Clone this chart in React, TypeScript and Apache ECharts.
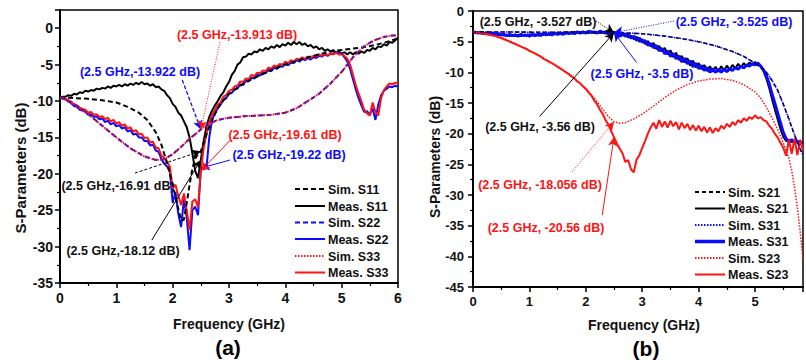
import React, { useEffect, useRef } from "react";
import * as echarts from "echarts";

const FONT = '"Liberation Sans", Arial, Helvetica, sans-serif';
const BLACK = "#000000";
const BLUE = "#0b0bff";
const RED = "#ff1414";

// Frequency grids (GHz) of the measured traces, 0.05 GHz step
const freqA = Array.from({ length: 121 }, (_, i) => Math.round(i * 5) / 100);
const freqB = Array.from({ length: 118 }, (_, i) => Math.round(i * 5) / 100);

// ---- Panel (a): reflection coefficients ----
const measS11 = [
  -9.5, -9.4, -9.4, -9.2, -9.3, -9.0, -9.1, -8.8, -8.9, -8.6,
  -8.7, -8.5, -8.6, -8.3, -8.4, -8.2, -8.3, -8.0, -8.2, -7.9,
  -8.0, -7.8, -8.0, -7.7, -7.9, -7.6, -7.8, -7.5, -7.7, -7.4,
  -7.7, -7.6, -7.9, -7.7, -8.1, -8.0, -8.4, -8.6, -9.2, -9.6,
  -10.4, -10.8, -11.6, -12.0, -12.8, -13.6, -15.0, -17.2, -19.6, -20.6,
  -18.12, -15.5, -13.5, -12.2, -11.3, -10.6, -10.0, -9.3, -8.8, -8.0,
  -7.4, -6.4, -5.9, -5.0, -4.7, -4.0, -3.9, -3.5, -3.6, -3.2,
  -3.3, -2.9, -3.1, -2.7, -2.9, -2.5, -2.7, -2.3, -2.6, -2.2,
  -2.4, -2.0, -2.3, -1.9, -2.2, -1.9, -2.3, -2.1, -2.5, -2.3,
  -2.7, -2.5, -2.9, -2.7, -3.1, -2.9, -3.2, -3.0, -3.4, -3.2,
  -3.5, -3.3, -3.6, -3.3, -3.6, -3.3, -3.5, -3.2, -3.4, -3.0,
  -3.1, -2.7, -2.9, -2.5, -2.6, -2.2, -2.4, -1.9, -2.0, -1.7,
  -1.3,
];
const measS22 = [
  -9.5, -9.7, -9.8, -10.1, -10.3, -10.7, -10.8, -11.2, -11.3, -11.5,
  -11.9, -11.8, -12.2, -12.1, -12.5, -12.4, -12.9, -12.7, -13.2, -13.0,
  -13.5, -13.3, -13.8, -13.6, -14.2, -14.0, -14.6, -14.5, -15.0, -15.0,
  -15.5, -15.5, -16.1, -16.0, -16.8, -17.0, -18.0, -18.6, -19.0, -19.6,
  -24.0, -22.5, -25.5, -27.3, -23.5, -26.0, -30.5, -25.0, -24.5, -25.7,
  -19.22, -19.3, -19.2, -15.0, -12.6, -11.7, -11.0, -10.5, -9.9, -9.6,
  -9.0, -8.9, -8.4, -8.3, -7.7, -7.8, -7.2, -7.3, -6.8, -6.9,
  -6.4, -6.5, -6.1, -6.2, -5.7, -5.9, -5.4, -5.6, -5.2, -5.3,
  -4.9, -5.1, -4.7, -4.8, -4.4, -4.6, -4.2, -4.4, -4.1, -4.3,
  -4.0, -4.1, -3.8, -3.9, -3.6, -3.8, -3.5, -3.5, -3.3, -3.4,
  -3.5, -4.0, -4.6, -5.6, -7.0, -8.4, -9.6, -10.6, -11.5, -11.4,
  -11.9, -11.0, -12.6, -10.5, -9.2, -8.6, -8.3, -8.0, -8.1, -7.9,
  -8.0,
];
const measS33 = [
  -9.5, -9.6, -9.7, -10.0, -10.1, -10.5, -10.6, -10.9, -11.1, -11.2,
  -11.6, -11.5, -11.9, -11.8, -12.2, -12.1, -12.5, -12.3, -12.8, -12.6,
  -13.1, -12.9, -13.4, -13.2, -13.8, -13.6, -14.2, -14.0, -14.6, -14.5,
  -15.1, -15.0, -15.7, -15.6, -16.4, -16.5, -17.5, -17.8, -18.4, -19.0,
  -22.0, -21.5, -23.0, -24.3, -22.7, -25.0, -27.7, -23.8, -23.5, -24.6,
  -19.61, -16.5, -14.5, -13.0, -11.9, -11.2, -10.5, -10.2, -9.4, -9.2,
  -8.6, -8.5, -8.0, -7.9, -7.3, -7.4, -6.9, -7.0, -6.4, -6.6,
  -6.1, -6.2, -5.8, -5.9, -5.4, -5.6, -5.1, -5.3, -4.9, -5.0,
  -4.6, -4.8, -4.4, -4.6, -4.2, -4.3, -4.0, -4.2, -3.9, -4.1,
  -3.8, -3.9, -3.6, -3.8, -3.5, -3.7, -3.5, -3.6, -3.4, -3.6,
  -3.6, -3.8, -4.2, -5.0, -6.4, -7.8, -9.0, -10.0, -11.2, -11.7,
  -12.0, -10.2, -11.5, -12.0, -9.6, -8.5, -8.0, -7.6, -7.7, -7.5,
  -7.6,
];
const simS11 = [
  [0, -9.5], [0.25, -9.6], [0.5, -9.7], [0.75, -9.9], [1.0, -10.2], [1.2, -10.8],
  [1.4, -11.6], [1.55, -12.6], [1.7, -14.3], [1.8, -16.0], [1.9, -18.5], [2.0, -21.5],
  [2.08, -24.2], [2.15, -26.4], [2.2, -26.3], [2.25, -24.0], [2.3, -21.5], [2.35, -19.3],
  [2.4, -17.9], [2.45, -17.3], [2.5, -16.91], [2.6, -14.6], [2.7, -12.6], [2.8, -11.0],
  [2.9, -9.9], [3.0, -9.0], [3.2, -7.9], [3.4, -7.0], [3.6, -6.3], [3.8, -5.6],
  [4.0, -5.0], [4.2, -4.5], [4.4, -4.0], [4.6, -3.6], [4.8, -3.2], [5.0, -3.0],
  [5.2, -2.8], [5.4, -2.6], [5.6, -2.3], [5.8, -1.9], [6.0, -1.4],
];
const simS22 = [
  [0, -9.5], [0.1, -9.7], [0.25, -10.4], [0.5, -11.8], [0.75, -13.4], [1.0, -15.0],
  [1.25, -16.5], [1.5, -17.6], [1.7, -18.1], [1.85, -18.0], [2.0, -17.3], [2.15, -16.3],
  [2.3, -15.2], [2.5, -13.922], [2.65, -13.1], [2.8, -12.6], [3.0, -12.3], [3.25, -12.1],
  [3.5, -12.0], [3.75, -11.9], [4.0, -11.6], [4.2, -11.0], [4.4, -10.0], [4.6, -9.0],
  [4.8, -7.6], [5.0, -6.0], [5.1, -5.0], [5.2, -4.0], [5.3, -3.2], [5.4, -2.5],
  [5.5, -2.0], [5.6, -1.6], [5.75, -1.2], [5.9, -1.0], [6.0, -1.0],
];
const simS33 = [
  [0, -9.5], [0.1, -9.7], [0.25, -10.4], [0.5, -11.8], [0.75, -13.4], [1.0, -15.0],
  [1.25, -16.5], [1.5, -17.6], [1.7, -18.1], [1.85, -18.0], [2.0, -17.3], [2.15, -16.3],
  [2.3, -15.2], [2.5, -13.913], [2.65, -13.1], [2.8, -12.6], [3.0, -12.3], [3.25, -12.1],
  [3.5, -12.0], [3.75, -11.9], [4.0, -11.6], [4.2, -11.0], [4.4, -10.0], [4.6, -9.0],
  [4.8, -7.6], [5.0, -6.0], [5.1, -5.0], [5.2, -4.0], [5.3, -3.2], [5.4, -2.5],
  [5.5, -2.0], [5.6, -1.6], [5.75, -1.2], [5.9, -1.0], [6.0, -1.0],
];

// ---- Panel (b): transmission / isolation ----
const measS21 = [
  -3.4, -3.6, -3.5, -3.7, -3.6, -3.8, -3.7, -3.9, -3.8, -4.0,
  -3.8, -4.0, -3.9, -4.1, -3.9, -4.1, -3.9, -4.1, -3.9, -4.0,
  -3.8, -4.0, -3.8, -4.0, -3.7, -3.9, -3.7, -3.9, -3.6, -3.8,
  -3.6, -3.8, -3.5, -3.7, -3.5, -3.7, -3.4, -3.6, -3.4, -3.6,
  -3.4, -3.6, -3.3, -3.6, -3.4, -3.6, -3.4, -3.7, -3.5, -3.7,
  -3.56, -3.8, -3.6, -4.0, -3.7, -4.3, -4.0, -4.6, -4.2, -5.0,
  -4.6, -5.4, -4.9, -5.8, -5.2, -6.2, -5.7, -6.6, -6.0, -7.1,
  -6.4, -7.5, -6.8, -8.0, -7.3, -8.4, -7.7, -8.9, -8.1, -9.2,
  -8.5, -9.5, -8.8, -9.8, -9.0, -9.9, -9.1, -9.9, -9.0, -9.8,
  -8.9, -9.6, -8.8, -9.4, -8.6, -9.2, -8.5, -9.0, -8.4, -8.8,
  -8.3, -8.7, -8.9, -9.8, -11.0, -12.5, -14.3, -16.0, -17.6, -19.2,
  -20.5, -21.2, -21.0, -21.4, -21.1, -21.5, -21.2, -21.6,
];
const measS31 = [
  -3.4, -3.5, -3.6, -3.5, -3.7, -3.6, -3.8, -3.6, -3.9, -3.7,
  -3.9, -3.8, -4.0, -3.8, -4.0, -3.9, -4.1, -3.8, -4.0, -3.9,
  -4.1, -3.8, -4.0, -3.8, -4.0, -3.7, -3.9, -3.7, -3.9, -3.6,
  -3.8, -3.6, -3.8, -3.5, -3.7, -3.5, -3.7, -3.4, -3.6, -3.4,
  -3.6, -3.3, -3.5, -3.4, -3.6, -3.3, -3.5, -3.4, -3.7, -3.4,
  -3.5, -3.6, -3.9, -3.6, -4.1, -3.8, -4.4, -4.1, -4.8, -4.4,
  -5.1, -4.8, -5.6, -5.3, -6.0, -5.6, -6.5, -6.1, -7.0, -6.5,
  -7.4, -6.9, -7.8, -7.3, -8.3, -7.7, -8.6, -8.1, -9.1, -8.5,
  -9.4, -8.9, -9.7, -9.2, -10.0, -9.4, -10.0, -9.5, -10.0, -9.4,
  -9.9, -9.4, -9.7, -9.2, -9.5, -9.0, -9.3, -8.8, -9.0, -8.6,
  -8.8, -8.5, -9.0, -9.6, -10.6, -11.8, -13.5, -15.0, -16.6, -18.2,
  -19.8, -20.8, -21.3, -21.0, -21.5, -21.2, -21.6, -21.4,
];
const measS23 = [
  -3.4, -3.5, -3.5, -3.6, -3.7, -3.8, -3.9, -4.0, -4.1, -4.3,
  -4.4, -4.6, -4.8, -5.0, -5.2, -5.4, -5.6, -5.8, -6.0, -6.2,
  -6.5, -6.7, -6.9, -7.2, -7.4, -7.8, -8.0, -8.3, -8.5, -8.8,
  -9.1, -9.4, -9.7, -10.0, -10.3, -10.7, -11.0, -11.5, -11.8, -12.3,
  -12.7, -13.3, -13.8, -14.6, -15.2, -16.1, -16.8, -17.8, -18.5, -19.6,
  -20.56, -21.6, -22.4, -23.2, -24.6, -24.3, -25.8, -26.3, -24.2, -23.5,
  -22.3, -21.2, -20.0, -19.0, -18.2, -19.2, -17.8, -18.9, -18.0, -19.0,
  -17.9, -18.8, -18.1, -19.3, -18.2, -19.1, -18.4, -19.4, -18.6, -19.5,
  -18.7, -19.6, -18.9, -19.8, -19.0, -19.9, -19.1, -19.6, -18.7, -19.2,
  -18.4, -18.9, -18.1, -18.6, -17.8, -18.2, -17.5, -17.9, -17.3, -17.6,
  -17.0, -17.5, -17.3, -17.8, -18.0, -18.7, -19.2, -20.0, -20.6, -21.5,
  -22.3, -23.6, -21.0, -23.3, -20.8, -23.5, -21.0, -22.8,
];
const simS21 = [
  [0, -3.4], [0.5, -3.42], [1.0, -3.45], [1.5, -3.48], [2.0, -3.5], [2.5, -3.527],
  [3.0, -3.7], [3.4, -4.1], [3.7, -4.5], [4.0, -5.0], [4.3, -5.7], [4.6, -6.6],
  [4.8, -7.4], [5.0, -8.5], [5.1, -9.2], [5.2, -10.0], [5.3, -11.3], [5.4, -12.9],
  [5.5, -15.2], [5.6, -17.6], [5.7, -20.2], [5.8, -22.5], [5.85, -23.5],
];
const simS31 = [
  [0, -3.4], [0.5, -3.42], [1.0, -3.45], [1.5, -3.48], [2.0, -3.5], [2.5, -3.525],
  [3.0, -3.7], [3.4, -4.1], [3.7, -4.5], [4.0, -5.0], [4.3, -5.7], [4.6, -6.6],
  [4.8, -7.4], [5.0, -8.5], [5.1, -9.2], [5.2, -10.0], [5.3, -11.3], [5.4, -12.9],
  [5.5, -15.2], [5.6, -17.6], [5.7, -20.2], [5.8, -22.5], [5.85, -23.5],
];
const simS23 = [
  [0, -3.4], [0.25, -3.7], [0.5, -4.3], [0.75, -5.3], [1.0, -6.4], [1.25, -7.7],
  [1.5, -9.0], [1.75, -10.6], [2.0, -12.6], [2.15, -14.2], [2.3, -16.0], [2.4, -17.2],
  [2.5, -18.056], [2.6, -18.3], [2.7, -18.2], [2.85, -17.6], [3.0, -16.8], [3.2, -15.5],
  [3.4, -14.1], [3.6, -12.9], [3.8, -12.0], [4.0, -11.4], [4.2, -11.1], [4.4, -11.0],
  [4.6, -11.3], [4.8, -12.0], [5.0, -13.2], [5.1, -14.2], [5.2, -15.7], [5.3, -17.4],
  [5.4, -19.3], [5.5, -21.5], [5.6, -24.0], [5.65, -26.0], [5.7, -28.8], [5.75, -32.0],
  [5.8, -36.0], [5.85, -40.5],
];

const legendA = ["Sim. S11", "Meas. S11", "Sim. S22", "Meas. S22", "Sim. S33", "Meas. S33"];
const legendB = ["Sim. S21", "Meas. S21", "Sim. S31", "Meas. S31", "Sim. S23", "Meas. S23"];

const zip = (xs: number[], ys: number[]) => ys.map((y, i) => [xs[i], y]);

// Arrow from a label anchor (data coordinates) to the marked point at 2.5 GHz
const arrow = (from: number[], to: number[], color: string, type: any, width = 1) => ({
  silent: true,
  symbol: ["none", "arrow"],
  symbolSize: [7, 9],
  label: { show: false },
  emphasis: { disabled: true },
  lineStyle: { color, type, width, opacity: 1 },
  data: [[{ coord: from }, { coord: to }]],
});

const lineSeries = (
  name: string,
  data: number[][],
  axis: number,
  color: string,
  width: number,
  type: any,
  markLine?: any
) => ({
  name,
  type: "line",
  xAxisIndex: axis,
  yAxisIndex: axis,
  data,
  showSymbol: false,
  symbol: "none",
  smooth: false,
  lineStyle: { color, width, type },
  itemStyle: { color },
  emphasis: { disabled: true },
  markLine,
  z: 2,
});

const tickLabel = (size: number, margin: number) => ({
  color: "#111",
  fontFamily: FONT,
  fontWeight: "bold",
  fontSize: size,
  margin,
});

const axisBase = {
  type: "value",
  axisLine: { show: true, onZero: false, lineStyle: { color: BLACK, width: 2 } },
  axisTick: { show: true, inside: false, length: 5, lineStyle: { color: BLACK, width: 1.5 } },
  minorTick: { show: true, splitNumber: 2, length: 3, lineStyle: { color: BLACK, width: 1.2 } },
  splitLine: { show: false },
  minorSplitLine: { show: false },
};

const text = (
  str: string,
  x: number,
  y: number,
  fill: string,
  size: number,
  align = "center",
  rotation = 0
) => ({
  type: "text",
  x,
  y,
  rotation,
  silent: true,
  style: {
    text: str,
    fill,
    font: `bold ${size}px ${FONT}`,
    align,
    verticalAlign: "middle",
  },
});

const legendRow = (
  label: string,
  x: number,
  y: number,
  color: string,
  width: number,
  dash: number[] | null
) => [
  {
    type: "line",
    silent: true,
    shape: { x1: x, y1: y, x2: x + 30, y2: y },
    style: { stroke: color, lineWidth: width, lineDash: dash || undefined },
  },
  text(label, x + 33, y + 0.5, "#111", 12.5, "left"),
];

export default function App() {
  const ref = useRef<HTMLDivElement>(null);

  useEffect(() => {
    if (!ref.current) return;
    const chart = echarts.init(ref.current, null, { renderer: "svg" });

    const dashA = [5, 3];
    const dotA = [1.5, 1.5];

    const series = [
      // panel (a)
      lineSeries(legendA[1], zip(freqA, measS11), 0, BLACK, 2, "solid",
        arrow([1.63, -29.1], [2.5, -18.12], BLACK, "solid")),
      lineSeries(legendA[3], zip(freqA, measS22), 0, BLUE, 2, "solid",
        arrow([3.02, -18.1], [2.5, -19.22], BLUE, "solid")),
      lineSeries(legendA[5], zip(freqA, measS33), 0, RED, 2, "solid",
        arrow([3.02, -15.4], [2.5, -19.61], RED, "solid")),
      lineSeries(legendA[0], simS11, 0, BLACK, 2, dashA,
        arrow([1.33, -19.9], [2.5, -16.91], BLACK, [3, 2])),
      lineSeries(legendA[2], simS22, 0, BLUE, 2, dashA,
        arrow([2.17, -7.1], [2.5, -13.922], BLUE, [4, 2], 1.3)),
      lineSeries(legendA[4], simS33, 0, RED, 2, dotA,
        arrow([2.84, -1.9], [2.5, -13.913], RED, [1, 1.5])),
      // panel (b)
      lineSeries(legendB[1], zip(freqB, measS21), 1, BLACK, 2, "solid",
        arrow([1.18, -17.2], [2.5, -3.56], BLACK, "solid")),
      lineSeries(legendB[3], zip(freqB, measS31), 1, BLUE, 3, "solid",
        arrow([2.9, -8.4], [2.5, -3.5], BLUE, "solid")),
      lineSeries(legendB[5], zip(freqB, measS23), 1, RED, 2, "solid",
        arrow([2.29, -33.3], [2.5, -20.56], RED, "solid")),
      lineSeries(legendB[0], simS21, 1, BLACK, 1.6, [4, 3],
        arrow([2.18, -1.64], [2.5, -3.527], BLACK, [1, 1.5])),
      lineSeries(legendB[2], simS31, 1, BLUE, 1.5, dotA,
        arrow([3.56, -1.64], [2.5, -3.525], BLUE, [1, 1.5])),
      lineSeries(legendB[4], simS23, 1, RED, 1.5, dotA,
        arrow([1.76, -26.2], [2.5, -18.056], RED, [1, 1.5])),
    ];

    const graphic = [
      // axis titles
      text("S-Parameters (dB)", 20, 168, "#111", 15, "center", Math.PI / 2),
      text("S-Parameters (dB)", 435, 157, "#111", 14, "center", Math.PI / 2),
      text("Frequency (GHz)", 229, 324, "#111", 14),
      text("Frequency (GHz)", 644, 325, "#111", 14),
      text("(a)", 228, 347, "#000", 21),
      text("(b)", 646, 348, "#000", 21),
      // point annotations
      text("(2.5 GHz,-13.913 dB)", 237, 35, RED, 12.5),
      text("(2.5 GHz,-13.922 dB)", 140, 72, BLUE, 12.5),
      text("(2.5 GHz,-19.61 dB)", 285, 135, RED, 12.5),
      text("(2.5 GHz,-19.22 dB)", 289, 155, BLUE, 12.5),
      text("(2.5 GHz,-16.91 dB)", 118, 186, "#111", 12.5),
      text("(2.5 GHz,-18.12 dB)", 123, 251, "#111", 12.5),
      text("(2.5 GHz, -3.527 dB)", 538, 22, "#111", 12.5),
      text("(2.5 GHz, -3.525 dB)", 734, 22, BLUE, 12.5),
      text("(2.5 GHz, -3.5 dB)", 642, 74, BLUE, 12.5),
      text("(2.5 GHz, -3.56 dB)", 540, 127, "#111", 12.5),
      text("(2.5 GHz, -18.056 dB)", 540, 185, RED, 12.5),
      text("(2.5 GHz, -20.56 dB)", 546, 228, RED, 12.5),
      // legends
      ...legendRow(legendA[0], 295, 189, BLACK, 2, [5, 3]),
      ...legendRow(legendA[1], 295, 206, BLACK, 2, null),
      ...legendRow(legendA[2], 295, 222.5, BLUE, 2, [5, 3]),
      ...legendRow(legendA[3], 295, 239, BLUE, 2, null),
      ...legendRow(legendA[4], 295, 256, RED, 2, [1.5, 1.5]),
      ...legendRow(legendA[5], 295, 272.5, RED, 2, null),
      ...legendRow(legendB[0], 695, 192, BLACK, 2, [4, 3]),
      ...legendRow(legendB[1], 695, 208.5, BLACK, 2, null),
      ...legendRow(legendB[2], 695, 225, BLUE, 2, [1.5, 1.5]),
      ...legendRow(legendB[3], 695, 241.5, BLUE, 3.5, null),
      ...legendRow(legendB[4], 695, 258, RED, 2, [1.5, 1.5]),
      ...legendRow(legendB[5], 695, 274.5, RED, 2, null),
    ];

    chart.setOption({
      animation: false,
      backgroundColor: "#ffffff",
      textStyle: { fontFamily: FONT },
      grid: [
        { left: 60, top: 10, width: 338, height: 273, show: true, borderColor: BLACK, borderWidth: 1.5, backgroundColor: "transparent" },
        { left: 473, top: 11, width: 332, height: 276, show: true, borderColor: BLACK, borderWidth: 1.5, backgroundColor: "transparent" },
      ],
      xAxis: [
        { ...axisBase, gridIndex: 0, min: 0, max: 6, interval: 1, axisLabel: tickLabel(14, 8) },
        {
          ...axisBase, gridIndex: 1, min: 0, max: 5.85, interval: 1,
          axisLabel: { ...tickLabel(13, 8), formatter: (v: number) => (Number.isInteger(v) ? String(v) : "") },
        },
      ],
      yAxis: [
        {
          ...axisBase, gridIndex: 0, min: -35, max: 2.5, interval: 5,
          axisLabel: { ...tickLabel(14, 7), formatter: (v: number) => (v > 0 ? "" : String(v)) },
        },
        { ...axisBase, gridIndex: 1, min: -45, max: 0, interval: 5, axisLabel: tickLabel(13, 9) },
      ],
      series,
      graphic,
    });

    return () => chart.dispose();
  }, []);

  return (
    <div
      ref={ref}
      style={{ position: "fixed", left: 0, top: 0, width: 806, height: 360, background: "#fff" }}
    />
  );
}
